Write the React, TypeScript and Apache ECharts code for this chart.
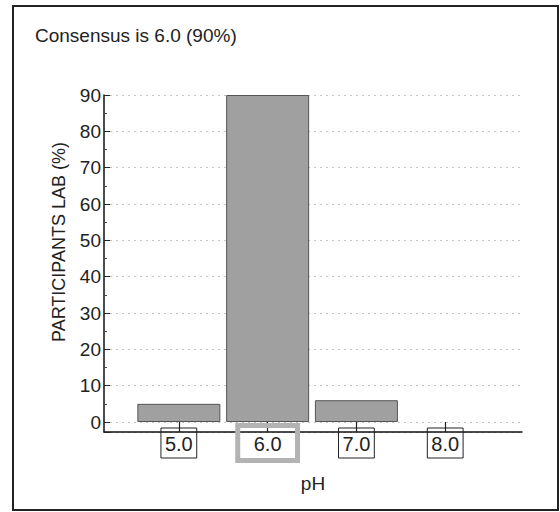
import React, { useEffect, useRef } from "react";
import * as echarts from "echarts";

const phLabels = ["5.0", "6.0", "7.0", "8.0"];
const phValues = [5, 6, 7, 8];
const labPercent = [5, 90, 6, 0];
const yTickValues = [0, 10, 20, 30, 40, 50, 60, 70, 80, 90];
const consensusIndex = 1;

const FONT = "'Liberation Sans', Arial, Helvetica, sans-serif";

export default function App() {
  const ref = useRef<HTMLDivElement>(null);

  useEffect(() => {
    if (!ref.current) return;
    const chart = echarts.init(ref.current, null, { renderer: "svg" });
    const consensusLabel = phLabels[consensusIndex];
    const consensusPct = labPercent[consensusIndex];

    chart.setOption({
      animation: false,
      backgroundColor: "#ffffff",
      textStyle: { fontFamily: FONT, color: "#222" },
      title: {
        text: `Consensus is ${consensusLabel} (${consensusPct}%)`,
        left: 30,
        top: 21,
        textStyle: { fontFamily: FONT, fontSize: 19, fontWeight: "normal", color: "#222" },
      },
      graphic: [
        {
          type: "rect",
          shape: { x: 13, y: 6, width: 545, height: 504 },
          style: { fill: "none", stroke: "#222", lineWidth: 2 },
          silent: true,
          z: 100,
        },
        {
          type: "text",
          x: 59,
          y: 242,
          rotation: Math.PI / 2,
          style: {
            text: "PARTICIPANTS LAB (%)",
            font: `18px ${FONT}`,
            fill: "#222",
            textAlign: "center",
            textVerticalAlign: "middle",
          },
        },
      ],
      grid: { left: 104, right: 38, top: 95, bottom: 80, containLabel: false },
      xAxis: {
        type: "value",
        min: 4.157,
        max: 8.865,
        name: "pH",
        nameLocation: "middle",
        nameGap: 42,
        nameTextStyle: { fontFamily: FONT, fontSize: 19, color: "#222" },
        splitLine: { show: false },
        axisLine: { show: true, onZero: false, lineStyle: { color: "#111", width: 1.5 } },
        axisTick: {
          show: true,
          inside: true,
          length: 10,
          customValues: phValues,
          lineStyle: { color: "#222", width: 1.2 },
        },
        axisLabel: {
          customValues: phValues,
          margin: 0,
          formatter: (v: number) => {
            const i = phValues.indexOf(v);
            const lab = i >= 0 ? phLabels[i] : "";
            return i === consensusIndex ? `{hl|${lab}}` : `{n|${lab}}`;
          },
          rich: {
            n: {
              fontFamily: FONT,
              fontSize: 20,
              color: "#222",
              lineHeight: 22,
              borderColor: "#222",
              borderWidth: 1,
              padding: [6, 4, 4, 4],
            },
            hl: {
              fontFamily: FONT,
              fontSize: 20,
              color: "#222",
              lineHeight: 22,
              borderColor: "#b3b3b3",
              borderWidth: 5,
              padding: [8, 16, 7, 16],
            },
          },
        },
      },
      yAxis: {
        type: "value",
        min: -2.75,
        max: 90,
        splitNumber: 9,
        minInterval: 10,
        maxInterval: 10,
        axisLine: { show: true, onZero: false, lineStyle: { color: "#111", width: 1.5 } },
        axisTick: { show: true, inside: true, length: 6, lineStyle: { color: "#222" } },
        minorTick: { show: true, splitNumber: 2, length: 3, lineStyle: { color: "#444" } },
        axisLabel: {
          showMinLabel: false,
          margin: 3,
          fontFamily: FONT,
          fontSize: 19,
          color: "#222",
          formatter: (v: number) => (yTickValues.indexOf(v) >= 0 ? String(v) : ""),
        },
        splitLine: {
          show: true,
          lineStyle: { color: "#c4c4c4", type: [2, 4], width: 1 },
        },
      },
      series: [
        {
          type: "bar",
          barWidth: 83,
          data: phValues.map((x, i) => ({
            value: [x, labPercent[i]],
            itemStyle: labPercent[i] === 0 ? { borderWidth: 0, opacity: 0 } : undefined,
          })),
          itemStyle: { color: "#a0a0a0", borderColor: "#555", borderWidth: 1 },
        },
      ],
    });

    return () => chart.dispose();
  }, []);

  return (
    <div
      ref={ref}
      style={{ position: "fixed", left: 0, top: 0, width: 560, height: 512 }}
    />
  );
}
